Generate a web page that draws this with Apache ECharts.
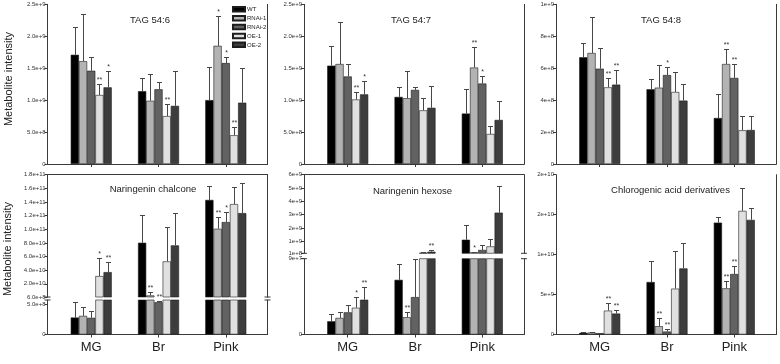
<!DOCTYPE html>
<html>
<head>
<meta charset="utf-8">
<script src="https://cdn.jsdelivr.net/npm/echarts@6.0.0/dist/echarts.min.js"></script>
<style>
html, body { margin: 0; padding: 0; background: #fff; }
#chart { width: 780px; height: 364px; }
</style>
</head>
<body>
<div id="chart"></div>
<script>
const categories = ['MG', 'Br', 'Pink']
const groups = ['WT', 'RNAi-1', 'RNAi-2', 'OE-1', 'OE-2']

// one row per group, values for MG, Br, Pink
const tag546Mean = [[1.71e9, 1.14e9, 1.00e9], [1.61e9, 0.99e9, 1.85e9], [1.46e9, 1.17e9, 1.58e9], [1.08e9, 0.75e9, 0.45e9], [1.20e9, 0.91e9, 0.96e9]]
const tag546Sd = [[0.44e9, 0.20e9, 0.52e9], [0.74e9, 0.42e9, 0.46e9], [0.21e9, 0.12e9, 0.09e9], [0.17e9, 0.19e9, 0.13e9], [0.26e9, 0.55e9, 0.54e9]]
const tag546Sig = [['', '', ''], ['', '', '*'], ['', '', '*'], ['**', '**', '**'], ['*', '', '']]
const tag546Ticks = [0, 5e8, 1e9, 1.5e9, 2e9, 2.5e9]

const tag547Mean = [[1.54e9, 1.05e9, 0.79e9], [1.565e9, 1.03e9, 1.51e9], [1.37e9, 1.16e9, 1.26e9], [1.01e9, 0.84e9, 0.47e9], [1.09e9, 0.88e9, 0.69e9]]
const tag547Sd = [[0.30e9, 0.15e9, 0.39e9], [0.655e9, 0.42e9, 0.32e9], [0.20e9, 0.05e9, 0.11e9], [0.12e9, 0.20e9, 0.13e9], [0.21e9, 0.34e9, 0.29e9]]
const tag547Sig = [['', '', ''], ['', '', '**'], ['', '', '*'], ['**', '', ''], ['*', '', '']]
const tag547Ticks = [0, 5e8, 1e9, 1.5e9, 2e9, 2.5e9]

const tag548Mean = [[6.68e8, 4.68e8, 2.88e8], [6.95e8, 4.78e8, 6.26e8], [5.97e8, 5.57e8, 5.39e8], [4.80e8, 4.51e8, 2.11e8], [4.97e8, 3.97e8, 2.13e8]]
const tag548Sd = [[0.88e8, 0.64e8, 1.48e8], [2.24e8, 1.44e8, 0.92e8], [1.28e8, 0.53e8, 0.85e8], [0.59e8, 1.25e8, 0.88e8], [0.90e8, 1.02e8, 0.86e8]]
const tag548Sig = [['', '', ''], ['', '', '**'], ['', '*', '**'], ['**', '', ''], ['**', '', '']]
const tag548Ticks = [0, 2e8, 4e8, 6e8, 8e8, 1e9]

const chalconeMean = [[2.83e8, 8.02e10, 1.43e11], [3.1e8, 2.9e9, 1.007e11], [2.78e8, 5.38e8, 1.105e11], [3.13e10, 5.28e10, 1.369e11], [3.71e10, 7.63e10, 1.237e11]]
const chalconeSd = [[2.56e8, 4.06e10, 2.1e10], [1.5e8, 4.4e9, 1.67e10], [1.12e8, 0.2e8, 1.52e10], [2.69e10, 5.09e10, 2.45e10], [1.42e10, 4.79e10, 4.46e10]]
const chalconeSig = [['', '', ''], ['', '**', '**'], ['', '**', '*'], ['*', '', ''], ['**', '', '']]
const chalconeTicksUpper = [6e8, 2e10, 4e10, 6e10, 8e10, 1e11, 1.2e11, 1.4e11, 1.6e11, 1.8e11]
const chalconeTicksLower = [0, 5e8]

const hexoseMean = [[1.57e7, 6.49e7, 1.12e9], [1.97e7, 2.05e7, 1.75e8], [2.63e7, 4.44e7, 3.5e8], [3.18e7, 1.4e8, 6.2e8], [4.13e7, 2.2e8, 3.15e9]]
const hexoseSd = [[0.87e7, 1.92e7, 1.08e9], [0.66e7, 0.63e7, 0.3e8], [0.87e7, 4.49e7, 3.5e8], [1.3e7, 0.3e8, 5.3e8], [1.49e7, 1.3e8, 2.0e9]]
const hexoseSig = [['', '', ''], ['', '**', '*'], ['', '', ''], ['*', '', ''], ['**', '**', '']]
const hexoseTicksUpper = [1e8, 1e9, 2e9, 3e9, 4e9, 5e9, 6e9]
const hexoseTicksLower = [0, 9e7]

const chlorogenicMean = [[2.1e8, 6.57e9, 1.40e10], [2.5e8, 1.04e9, 5.78e9], [1.7e8, 3.7e8, 7.57e9], [2.99e9, 5.74e9, 1.547e10], [2.62e9, 8.27e9, 1.435e10]]
const chlorogenicSd = [[1.2e8, 2.62e9, 0.68e9], [0.8e8, 1.04e9, 0.91e9], [0.4e8, 3.0e8, 1.0e9], [0.96e9, 4.74e9, 2.87e9], [0.46e9, 3.21e9, 1.45e9]]
const chlorogenicSig = [['', '', ''], ['', '**', '**'], ['', '**', '**'], ['**', '', ''], ['**', '', '']]
const chlorogenicTicks = [0, 5e9, 1e10, 1.5e10, 2e10]

// layout
const FONT = 'Liberation Sans, Arial, sans-serif'
const COLORS = ['#000000', '#b3b3b3', '#626262', '#e0e0e0', '#3d3d3d']
const LINE = '#3a3a3a'
const COLS = [47.5, 304, 556]
const PLOT_W = 220
const X_MIN = 0.35
const X_MAX = 3.62
const BAR_W = 8.2

const panels = [
	{ title: 'TAG 54:6', titleAt: [150, 20], col: 0, row: 0, mean: tag546Mean, sd: tag546Sd, sig: tag546Sig,
		segs: [{ top: 4.3, bottom: 164, min: 0, max: 2.5e9, ticks: tag546Ticks, digits: 1 }] },
	{ title: 'TAG 54:7', titleAt: [411, 20], col: 1, row: 0, mean: tag547Mean, sd: tag547Sd, sig: tag547Sig,
		segs: [{ top: 4.3, bottom: 164, min: 0, max: 2.5e9, ticks: tag547Ticks, digits: 1 }] },
	{ title: 'TAG 54:8', titleAt: [661, 20], col: 2, row: 0, mean: tag548Mean, sd: tag548Sd, sig: tag548Sig,
		segs: [{ top: 4.3, bottom: 164, min: 0, max: 1e9, ticks: tag548Ticks, digits: 0 }] },
	{ title: 'Naringenin chalcone', titleAt: [153, 189.5], col: 0, row: 1, mean: chalconeMean, sd: chalconeSd, sig: chalconeSig,
		segs: [
			{ top: 174.7, bottom: 297, min: 6e8, max: 1.8e11, ticks: chalconeTicksUpper, digits: 1 },
			{ top: 300, bottom: 334.5, min: 0, max: 5.75e8, ticks: chalconeTicksLower, digits: 1 }
		] },
	{ title: 'Naringenin hexose', titleAt: [412.5, 191.5], col: 1, row: 1, mean: hexoseMean, sd: hexoseSd, sig: hexoseSig,
		segs: [
			{ top: 174.7, bottom: 253.3, min: 1e8, max: 6e9, ticks: hexoseTicksUpper, digits: 0 },
			{ top: 258.7, bottom: 334.5, min: 0, max: 9e7, ticks: hexoseTicksLower, digits: 0 }
		] },
	{ title: 'Chlorogenic acid derivatives', titleAt: [670.5, 190], col: 2, row: 1, mean: chlorogenicMean, sd: chlorogenicSd, sig: chlorogenicSig,
		segs: [{ top: 174.7, bottom: 334.5, min: 0, max: 2e10, ticks: chlorogenicTicks, digits: 0 }] }
]

function fmt(digits) {
	return v => (v === 0 ? '0' : v.toExponential(digits))
}

function errorSeries(axisIndex, panel, seg) {
	const data = []
	const marks = []
	for (let g = 0; g < groups.length; g++) {
		for (let c = 0; c < categories.length; c++) {
			const m = panel.mean[g][c]
			if (m < seg.min || m > seg.max) continue
			data.push([c + 1, m, m + panel.sd[g][c], g])
			marks.push(panel.sig[g][c])
		}
	}
	return {
		type: 'custom',
		xAxisIndex: axisIndex,
		yAxisIndex: axisIndex,
		silent: true,
		z: 3,
		data: data,
		renderItem(params, api) {
			const g = api.value(3)
			const base = api.coord([api.value(0), api.value(1)])
			const top = api.coord([api.value(0), api.value(2)])
			const x = Math.round(base[0] + (g - 2) * BAR_W) + 0.5
			const y = Math.round(top[1]) + 0.5
			const lineStyle = { stroke: '#474747', lineWidth: 1 }
			const children = [
				{ type: 'line', shape: { x1: x, y1: base[1], x2: x, y2: y }, style: lineStyle },
				{ type: 'line', shape: { x1: x - 2.5, y1: y, x2: x + 2.5, y2: y }, style: lineStyle }
			]
			const mark = marks[params.dataIndex]
			if (mark) {
				children.push({
					type: 'text',
					x: x,
					y: y - 0.5,
					style: { text: mark, fill: '#333', font: '7px ' + FONT, align: 'center', verticalAlign: 'bottom' }
				})
			}
			return { type: 'group', children: children }
		}
	}
}

const grid = []
const xAxis = []
const yAxis = []
const series = []
const graphic = []

panels.forEach(panel => {
	const left = COLS[panel.col]
	panel.segs.forEach((seg, si) => {
		const isTop = si === 0
		const isBottom = si === panel.segs.length - 1
		const gi = grid.length
		grid.push({ left: left, top: seg.top, width: PLOT_W, height: seg.bottom - seg.top, outerBoundsMode: 'none', show: false })
		// bottom axis (data) and top axis (frame line)
		xAxis.push({
			type: 'value', gridIndex: gi, position: 'bottom', min: X_MIN, max: X_MAX,
			axisLine: { show: isBottom, lineStyle: { color: LINE, width: 1 } },
			axisTick: { show: isBottom, customValues: [1, 2, 3], length: 3, lineStyle: { color: LINE } },
			axisLabel: {
				show: isBottom && panel.row === 1, customValues: [1, 2, 3],
				formatter: v => categories[Math.round(v) - 1], fontSize: 13, color: '#222', fontFamily: FONT, margin: 6
			},
			splitLine: { show: false }
		})
		// y axis with labels
		yAxis.push({
			type: 'value', gridIndex: gi, position: 'left', min: seg.min, max: seg.max,
			axisLine: { show: true, lineStyle: { color: LINE, width: 1 } },
			axisTick: { show: true, customValues: seg.ticks, length: 3, lineStyle: { color: LINE } },
			axisLabel: { customValues: seg.ticks, formatter: fmt(seg.digits), fontSize: 6, color: '#333', fontFamily: FONT, margin: 2 },
			splitLine: { show: false }
		})
		groups.forEach((name, g) => {
			series.push({
				type: 'bar', name: name, xAxisIndex: gi * 2, yAxisIndex: gi * 2,
				barWidth: BAR_W, barGap: '0%', silent: true,
				itemStyle: { color: COLORS[g], borderColor: '#1c1c1c', borderWidth: 0.6 },
				data: panel.mean[g].map((v, c) => [c + 1, v])
			})
		})
		series.push(errorSeries(gi * 2, panel, seg))
		xAxis.push({
			type: 'value', gridIndex: gi, position: 'top', min: 0, max: 1,
			axisLine: { show: isTop, lineStyle: { color: LINE, width: 1 } },
			axisTick: { show: false }, axisLabel: { show: false }, splitLine: { show: false }
		})
		yAxis.push({
			type: 'value', gridIndex: gi, position: 'right', min: 0, max: 1,
			axisLine: { show: true, lineStyle: { color: LINE, width: 1 } },
			axisTick: { show: false }, axisLabel: { show: false }, splitLine: { show: false }
		})
	})
	graphic.push({
		type: 'text', x: panel.titleAt[0], y: panel.titleAt[1],
		style: { text: panel.title, fill: '#222', font: '9.5px ' + FONT, align: 'center', verticalAlign: 'middle' }
	})
	// break marks where the value axis is split
	if (panel.segs.length > 1) {
		const ys = [panel.segs[0].bottom, panel.segs[1].top]
		;[left, left + PLOT_W].forEach(x => {
			ys.forEach(y => {
				graphic.push({ type: 'line', shape: { x1: x - 3, y1: y, x2: x + 3, y2: y }, style: { stroke: LINE, lineWidth: 1 } })
			})
		})
	}
})

graphic.push(
	{ type: 'text', x: 8.5, y: 79, rotation: Math.PI / 2, style: { text: 'Metabolite intensity', fill: '#222', font: '11px ' + FONT, align: 'center', verticalAlign: 'middle' } },
	{ type: 'text', x: 7.5, y: 249, rotation: Math.PI / 2, style: { text: 'Metabolite intensity', fill: '#222', font: '11px ' + FONT, align: 'center', verticalAlign: 'middle' } }
)

const chart = echarts.init(document.getElementById('chart'), null, { renderer: 'canvas' })
chart.setOption({
	animation: false,
	backgroundColor: '#fff',
	textStyle: { fontFamily: FONT },
	legend: {
		data: groups,
		orient: 'vertical',
		left: 232,
		top: 6,
		icon: 'rect',
		itemWidth: 12,
		itemHeight: 4.5,
		itemGap: 2.4,
		selectedMode: false,
		padding: 0,
		textStyle: { fontSize: 6, color: '#222', lineHeight: 6, padding: [0, 0, 0, -3] }
	},
	grid: grid,
	xAxis: xAxis,
	yAxis: yAxis,
	series: series,
	graphic: graphic
})
</script>
</body>
</html>
